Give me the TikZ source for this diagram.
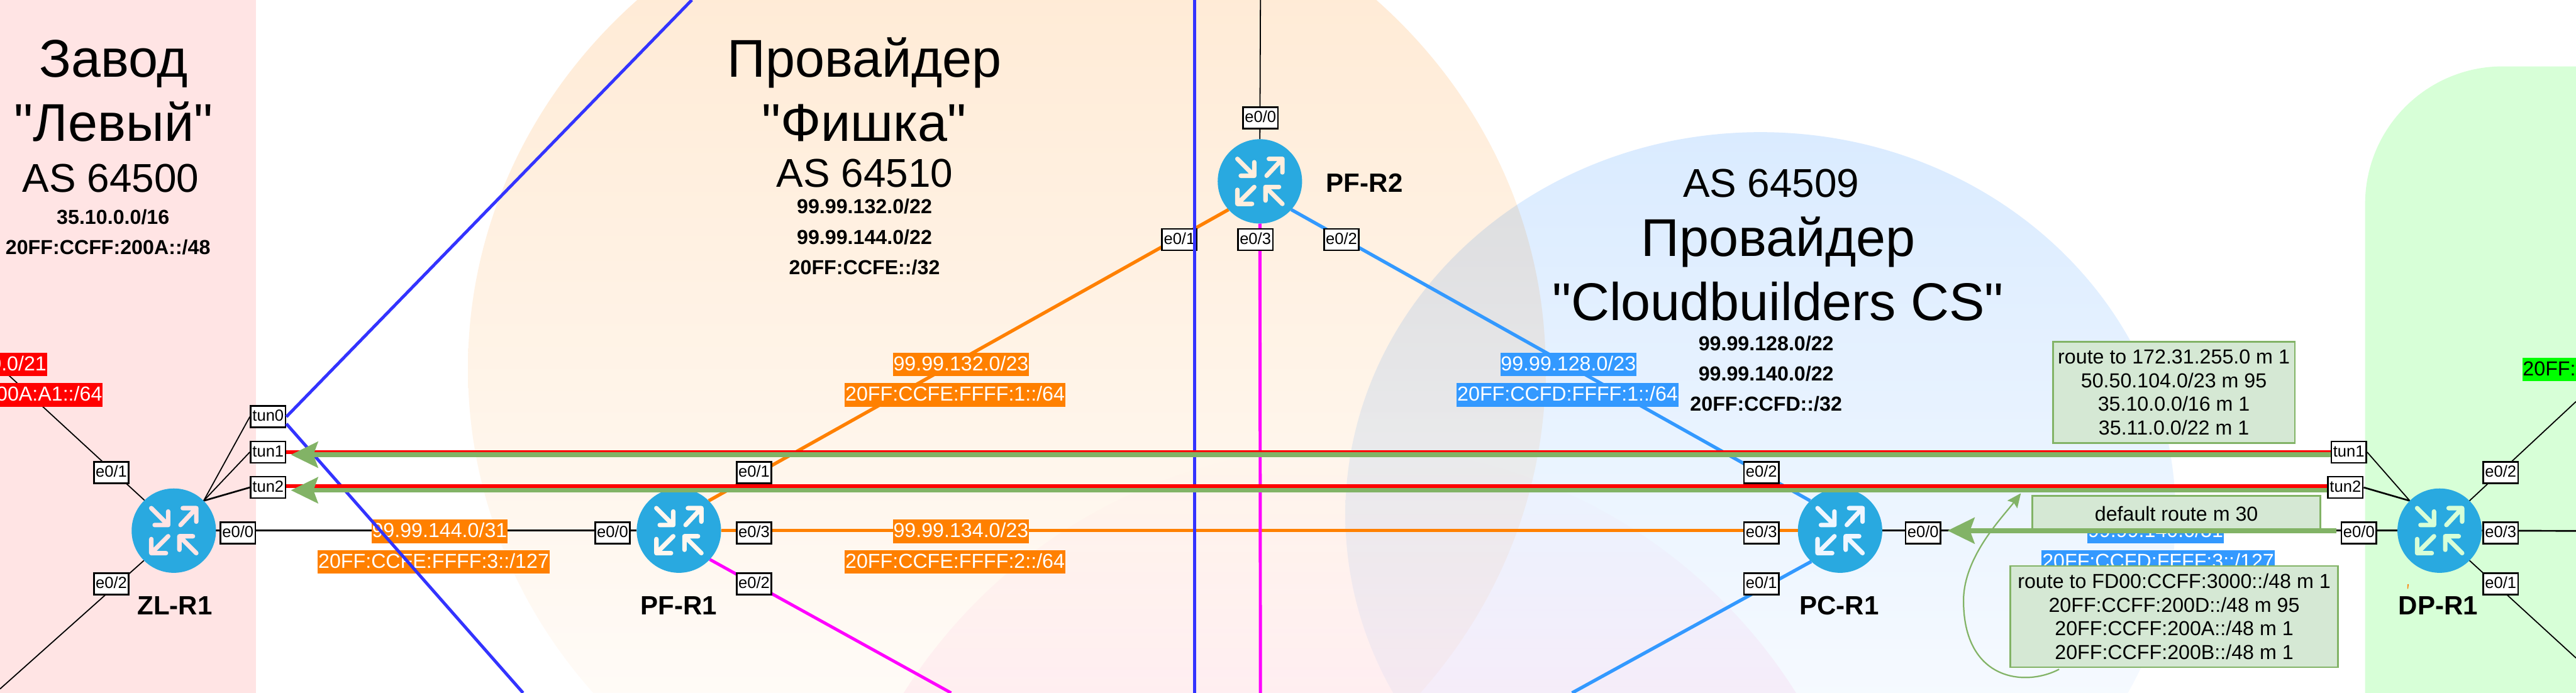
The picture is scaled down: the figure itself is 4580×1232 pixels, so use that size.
\documentclass[tikz,border=0pt]{standalone}
\usepackage{fontspec}
\setmainfont{Liberation Sans}
\usetikzlibrary{arrows.meta}
\pgfdeclarelayer{zones}
\pgfdeclarelayer{wires}
\pgfsetlayers{zones,wires,main}
\definecolor{zpink}{HTML}{FFE4E4}
\definecolor{zgreen}{HTML}{D7FFD7}
\definecolor{rblue}{HTML}{29A9E0}
\definecolor{lorange}{HTML}{FF8000}
\definecolor{lblue}{HTML}{3399FF}
\definecolor{tblue}{HTML}{3333FF}
\definecolor{gline}{HTML}{82B366}
\definecolor{gfill}{HTML}{D5E8D4}
\definecolor{mgnt}{HTML}{FF00FF}
\definecolor{pureg}{HTML}{00FF00}
\definecolor{purer}{HTML}{FF0000}
\definecolor{orangetop}{HTML}{FFE8D0}
\definecolor{bluetop}{HTML}{DAEBFF}
\definecolor{pinkbot}{HTML}{FFC8E6}
\definecolor{aorange}{HTML}{FFF7EF}
\definecolor{apeach}{HTML}{FFEEDD}
\definecolor{ablue}{HTML}{EFF6FF}
\newcommand{\fsz}[1]{\fontsize{#1}{#1}\selectfont}
\tikzset{
  x=0.5pt,y=-0.5pt,
  ttl/.style={anchor=base,inner sep=0,font=\fsz{47.25}},
  asn/.style={anchor=base,inner sep=0,font=\fsz{35.7}},
  pfx/.style={anchor=base,inner sep=0,font=\bfseries\fsz{18}},
  rname/.style={anchor=base,inner sep=0,font=\bfseries\fsz{23.5}},
  port/.style={draw=black,line width=1.5pt,fill=white,rectangle,inner sep=0,minimum width=31pt,minimum height=19pt,text height=12pt,text depth=4pt,font=\fsz{14.3}},
  rtrc/.style={circle,fill=rblue,inner sep=0,minimum size=75pt,outer sep=0},
  rarr/.style={line width=4pt,line cap=round,line join=round},
  wire/.style={draw=black,line width=1pt},
  wireb/.style={draw=black,line width=1.5pt},
  oline/.style={draw=lorange,line width=3pt},
  bline/.style={draw=lblue,line width=3pt},
  mline/.style={draw=mgnt,line width=2.75pt},
  tline/.style={draw=tblue,line width=2.75pt},
  rline/.style={draw=purer,line width=3pt},
  garrow/.style={draw=gline,fill=gline,line width=4.2pt,-{Stealth[length=24pt,width=23pt,inset=4pt]}},
  gcurve/.style={draw=gline,fill=none,line width=1.25pt,-{Stealth[length=12.5pt,width=11pt,inset=2pt]}},
  tag/.style={rectangle,inner xsep=0.5pt,inner ysep=0,text height=16pt,text depth=5pt,font=\fsz{18}},
  otag/.style={tag,fill=lorange,text=white},
  btag/.style={tag,fill=lblue,text=white},
  rtag/.style={tag,fill=purer,text=white},
  note/.style={rectangle,draw=gline,fill=gfill,line width=1.5pt,inner sep=0,align=center,font=\fontsize{18}{21}\selectfont},
}
\newcommand{\rtrnode}[4]{%
  \node[rtrc] (#1) at (#2,#3) {};
  \begin{scope}[shift={(#2,#3)}]
    \draw[rarr,draw=#4] (12,-10) -- (40,-40) (16,-40) -- (40,-40) -- (40,-16);
    \draw[rarr,draw=#4] (-10,10) -- (-40,40) (-14,40) -- (-40,40) -- (-40,15);
    \draw[rarr,draw=#4] (-40,-40) -- (-10,-10) (-34,-10) -- (-10,-10) -- (-10,-34);
    \draw[rarr,draw=#4] (40,40) -- (10,10) (34,10) -- (10,10) -- (10,34);
  \end{scope}}
\begin{document}
\begin{tikzpicture}
\useasboundingbox (0,0) rectangle (4580,1232);
\clip (0,0) rectangle (4580,1232);
% zones
\begin{pgfonlayer}{zones}
\fill[white] (0,0) rectangle (4580,1232);
\fill[zpink] (0,0) rectangle (455,1232);
\begin{scope}[blend mode=multiply]
  \shade[top color=orangetop,bottom color=white] (1790,655) ellipse [x radius=958,y radius=900];
  \shade[top color=bluetop,bottom color=white] (3130,915) ellipse [x radius=738,y radius=680];
  \shade[top color=white,bottom color=pinkbot] (2400,1731) ellipse [x radius=937,y radius=937];
\end{scope}
\fill[zgreen] (4205,1300) -- (4205,363) .. controls (4205,227) and (4315,118) .. (4450,118) -- (4700,118) -- (4700,1300) -- cycle;
\end{pgfonlayer}
% free ends
\coordinate (zlA) at (0,653);
\coordinate (zlB) at (0,1225);
\coordinate (pfM) at (1691,1232);
\coordinate (pcB) at (2795,1232);
\coordinate (r2T) at (2241,0);
\coordinate (r2B) at (2241,1232);
\coordinate (dpA) at (4580,714);
\coordinate (dpB) at (4580,944);
\coordinate (dpC) at (4580,1170);
\coordinate (tuA) at (1230,0);
\coordinate (tuB) at (930,1232);
\coordinate (tvT) at (2124,0);
\coordinate (tvB) at (2124,1232);
\coordinate (cvE) at (3593,877);
% routers
\rtrnode{zl}{309}{943.5}{zpink}
\rtrnode{pf1}{1207}{943.5}{aorange}
\rtrnode{pf2}{2240}{322.5}{apeach}
\rtrnode{pc}{3271.5}{943.5}{ablue}
\rtrnode{dp}{4337.5}{943.5}{zgreen}
% ports
\node[port] (ze1) at (198,840) {e0/1};
\node[port] (ze2) at (198,1038.4) {e0/2};
\node[port] (ze0) at (423,948) {e0/0};
\node[port] (zt0) at (476.7,741) {tun0};
\node[port] (zt1) at (476.7,803.8) {tun1};
\node[port] (zt2) at (476.7,866.7) {tun2};
\node[port] (fe0) at (1089,948) {e0/0};
\node[port] (fe1) at (1340.7,840) {e0/1};
\node[port] (fe3) at (1340.7,948) {e0/3};
\node[port] (fe2) at (1340.7,1038.4) {e0/2};
\node[port] (ge0) at (2241,210) {e0/0};
\node[port] (ge1) at (2097,426) {e0/1};
\node[port] (ge3) at (2232,426) {e0/3};
\node[port] (ge2) at (2385,426) {e0/2};
\node[port] (ce2) at (3131.7,840) {e0/2};
\node[port] (ce3) at (3131.7,948) {e0/3};
\node[port] (ce1) at (3131.7,1038.4) {e0/1};
\node[port] (ce0) at (3419,948) {e0/0};
\node[port] (dt1) at (4176,803.8) {tun1};
\node[port] (dt2) at (4170,866.7) {tun2};
\node[port] (de0) at (4194,948) {e0/0};
\node[port] (de2) at (4446,840) {e0/2};
\node[port] (de3) at (4446,948) {e0/3};
\node[port] (de1) at (4446,1038.4) {e0/1};
% connectors under the nodes
\begin{pgfonlayer}{wires}
\draw[wire] (zl.134) -- (zlA);
\draw[wire] (zl.225) -- (zlB);
\draw[wire] (zl.45) -- (zt0.west);
\draw[wire] (zl.45) -- (zt1.west);
\draw[wireb] (zl.45) -- (zt2.west);
\draw[wireb] (zl.east) -- (pf1.west);
\draw[oline] (pf1.45) -- (pf2.222);
\draw[oline] (pf1.east) -- (pc.west);
\draw[mline] (pf1.-43) -- (pfM);
\draw[wire] (pf2.north) -- (r2T);
\draw[mline] (pf2.south) -- (r2B);
\draw[bline] (pf2.-42) -- (pc.135);
\draw[bline] (pc.227) -- (pcB);
\draw[wireb] (pc.east) -- (dp.west);
\draw[wire] (dp.135) -- (dt1.east);
\draw[wireb] (dp.135) -- (dt2.east);
\draw[wire] (dp.45) -- (dpA);
\draw[wireb] (dp.east) -- (dpB);
\draw[wire] (dp.-45) -- (dpC);
\end{pgfonlayer}
% titles
\node[ttl] (t1) at (202,137.5) {Завод};
\node[ttl] (t2) at (202,251.5) {\textquotedbl Левый\textquotedbl};
\node[asn] (t3) at (197,342) {AS 64500};
\node[pfx] (t4) at (201,399) {35.10.0.0/16};
\node[pfx] (t5) at (192,452.6) {20FF:CCFF:200A::/48};
\node[ttl] (f1) at (1537,137.5) {Провайдер};
\node[ttl] (f2) at (1536,251.5) {\textquotedbl Фишка\textquotedbl};
\node[asn] (f3) at (1537.5,333) {AS 64510};
\node[pfx] (f4) at (1537,380) {99.99.132.0/22};
\node[pfx] (f5) at (1537,434) {99.99.144.0/22};
\node[pfx] (f6) at (1537,488) {20FF:CCFE::/32};
\node[asn] (c1) at (3149,350.5) {AS 64509};
\node[ttl] (c2) at (3162,456) {Провайдер};
\node[ttl] (c3) at (3161,570) {\textquotedbl Cloudbuilders CS\textquotedbl};
\node[pfx] (c4) at (3140,623) {99.99.128.0/22};
\node[pfx] (c5) at (3140,677) {99.99.140.0/22};
\node[pfx] (c6) at (3140,731) {20FF:CCFD::/32};
\node[rname] (n1) at (311,1093.4) {ZL-R1};
\node[rname] (n2) at (1207,1093.4) {PF-R1};
\node[rname] (n3) at (2426,342) {PF-R2};
\node[rname] (n4) at (3270,1093.4) {PC-R1};
\node[rname] (n5) at (4335,1093.4) {DP-R1};
% address labels
\node[rtag,anchor=east] (a1) at (84,648) {0.0/21};
\node[rtag,anchor=east] (a2) at (183,702) {00A:A1::/64};
\node[tag,fill=pureg,anchor=west,text width=50pt,inner xsep=0pt] (a3) at (4485,657) {20FF:};
\node[otag] (o1) at (781.5,945) {99.99.144.0/31};
\node[otag] (o2) at (771,999) {20FF:CCFE:FFFF:3::/127};
\node[otag] (o3) at (1708.5,648) {99.99.132.0/23};
\node[otag] (o4) at (1698,702) {20FF:CCFE:FFFF:1::/64};
\node[otag] (o5) at (1708.5,945) {99.99.134.0/23};
\node[otag] (o6) at (1698,999) {20FF:CCFE:FFFF:2::/64};
\node[btag] (b1) at (2788.5,648) {99.99.128.0/23};
\node[btag] (b2) at (2787,702) {20FF:CCFD:FFFF:1::/64};
\node[btag] (b3) at (3832.5,945) {99.99.140.0/31};
\node[btag] (b4) at (3837,999) {20FF:CCFD:FFFF:3::/127};
% tunnels
\draw[tline] (zt0.east) -- (tuA);
\draw[tline] ([yshift=-6.25pt]zt0.east) -- (tuB);
\draw[tline] (tvT) -- (tvB);
\draw[rline] (zt1.east) -- (dt1.west);
\draw[rline] ([yshift=1.1pt]zt2.east) -- ([yshift=1.1pt]dt2.west);
% notes
\node[note,minimum width=215pt,minimum height=90pt] (k1) at (3865,697.5) {route to 172.31.255.0 m 1\\50.50.104.0/23 m 95\\35.10.0.0/16 m 1\\35.11.0.0/22 m 1};
\node[note,minimum width=256pt,minimum height=32pt,anchor=north] (k2) at (3869.5,880) {default route m 30};
\node[note,minimum width=291pt,minimum height=90pt] (k3) at (3865.5,1096.5) {route to FD00:CCFF:3000::/48 m 1\\20FF:CCFF:200D::/48 m 95\\20FF:CCFF:200A::/48 m 1\\20FF:CCFF:200B::/48 m 1};
% route arrows
\draw[garrow,shorten >=4pt] ([yshift=-2.35pt]dt1.west) -- ([yshift=-2.35pt]zt1.east);
\draw[garrow,shorten >=4pt] ([yshift=-2.5pt]dt2.west) -- ([yshift=-2.5pt]zt2.east);
\draw[garrow,shorten <=4pt,shorten >=5.5pt] ([yshift=2.25pt]de0.west) -- ([yshift=2.25pt]ce0.east);
\draw[gcurve] (k3.south west) ++(88,2) .. controls (3600,1222) and (3491,1210) .. (3491,1068) .. controls (3491,990) and (3560,920) .. (cvE);
\fill[lorange] (4280.5,1039) -- (4282.5,1039) -- (4281.5,1047) -- (4280,1047) -- cycle;
\end{tikzpicture}
\end{document}
